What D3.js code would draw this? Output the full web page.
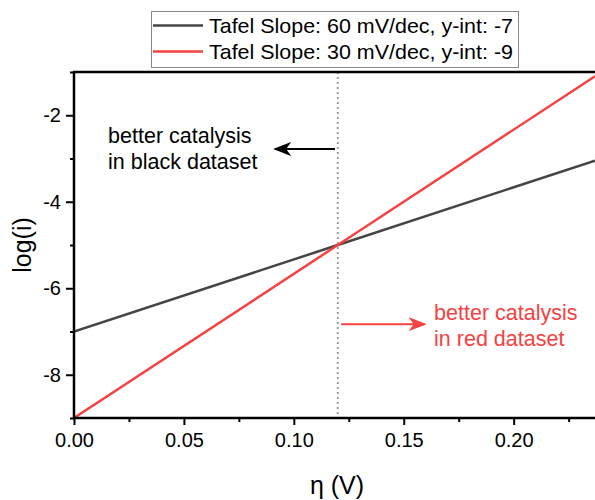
<!DOCTYPE html>
<html>
  <head>
    <meta charset="utf-8" />
    <script src="https://d3js.org/d3.v7.min.js"></script>
    <title>Tafel plot</title>
    <style>
      body { margin: 0; background: #fff; }
      text { font-family: "Liberation Sans", Arial, sans-serif; }
    </style>
  </head>
  <body>
    <svg id="chart" width="595" height="500"></svg>
    <script>

      // series
      var etaValues = [0, 0.12, 0.237];
      var blackValues = [-7, -5, -3.05];
      var redValues = [-9, -5, -1.1];
      var seriesNames = ["Tafel Slope: 60 mV/dec, y-int: -7", "Tafel Slope: 30 mV/dec, y-int: -9"];
      var seriesColors = ["#454545", "#f54242"];

      var xTicks = [0, 0.05, 0.10, 0.15, 0.20];
      var xMinor = [0.025, 0.075, 0.125, 0.175, 0.225];
      var yTicks = [-2, -4, -6, -8];
      var yMinor = [-1, -3, -5, -7, -9];
      var crossingEta = 0.12;

      // annotations, in data units
      var blackNote = ["better catalysis", "in black dataset"];
      var redNote = ["better catalysis", "in red dataset"];

      var svg = d3.select("#chart");

      var pLeft = 74, pRight = 595, pTop = 72, pBottom = 418;

      var x = d3.scaleLinear().domain([0, 0.237]).range([pLeft, pRight]);
      var y = d3.scaleLinear().domain([-9, -1]).range([pBottom, pTop]);

      svg.append("clipPath").attr("id", "plotclip")
        .append("rect")
        .attr("x", pLeft).attr("y", pTop)
        .attr("width", pRight - pLeft).attr("height", pBottom - pTop);

      // dotted guide at the crossing point
      svg.append("line")
        .attr("x1", x(crossingEta)).attr("x2", x(crossingEta))
        .attr("y1", pTop).attr("y2", pBottom)
        .attr("stroke", "#a0a0a0")
        .attr("stroke-width", 2)
        .attr("stroke-dasharray", "2,3");

      var line = d3.line()
        .x(function(d) { return x(d[0]); })
        .y(function(d) { return y(d[1]); });

      var series = [blackValues, redValues].map(function(vals) {
        return etaValues.map(function(e, i) { return [e, vals[i]]; });
      });

      svg.append("g").attr("clip-path", "url(#plotclip)")
        .selectAll("path")
        .data(series)
        .enter().append("path")
        .attr("d", line)
        .attr("fill", "none")
        .attr("stroke", function(d, i) { return seriesColors[i]; })
        .attr("stroke-width", 2.5);

      // axes
      var gx = svg.append("g")
        .attr("transform", "translate(0," + pBottom + ")")
        .call(d3.axisBottom(x)
          .tickValues(xTicks)
          .tickFormat(d3.format(".2f"))
          .tickSize(7)
          .tickPadding(8));

      svg.append("g")
        .attr("transform", "translate(0," + pBottom + ")")
        .call(d3.axisBottom(x).tickValues(xMinor).tickSize(4).tickFormat(""))
        .select(".domain").remove();

      var gy = svg.append("g")
        .attr("transform", "translate(" + pLeft + ",0)")
        .call(d3.axisLeft(y)
          .tickValues(yTicks)
          .tickFormat(function(d) { return d; })
          .tickSize(8)
          .tickPadding(5));

      svg.append("g")
        .attr("transform", "translate(" + pLeft + ",0)")
        .call(d3.axisLeft(y).tickValues(yMinor).tickSize(4).tickFormat(""))
        .select(".domain").remove();

      gx.select(".domain").attr("d", "M" + (pLeft - 1) + ",0H" + pRight);
      gy.select(".domain").attr("d", "M0," + (pBottom + 1) + "V" + (pTop - 1));

      svg.selectAll(".domain").attr("stroke-width", 2.5).attr("stroke", "#000");
      svg.selectAll(".tick line").attr("stroke-width", 2).attr("stroke", "#000");
      svg.selectAll(".tick text")
        .attr("font-size", 20).attr("fill", "#000")
        .style("font-family", "Liberation Sans, Arial, sans-serif");

      // top frame line
      svg.append("line")
        .attr("x1", pLeft - 1).attr("x2", pRight)
        .attr("y1", pTop).attr("y2", pTop)
        .attr("stroke", "#000").attr("stroke-width", 2.5);

      // axis titles
      svg.append("text")
        .attr("x", 337)
        .attr("y", 494)
        .attr("text-anchor", "middle")
        .attr("font-size", 25)
        .text("η (V)");

      svg.append("text")
        .attr("transform", "translate(31," + ((pTop + pBottom) / 2) + ") rotate(-90)")
        .attr("text-anchor", "middle")
        .attr("font-size", 25)
        .text("log(i)");

      // legend
      var legend = svg.append("g");
      legend.append("rect")
        .attr("x", 151.5).attr("y", 11.5)
        .attr("width", 367).attr("height", 56)
        .attr("fill", "#fff")
        .attr("stroke", "#888").attr("stroke-width", 1);

      var rows = legend.selectAll(".row")
        .data(seriesNames)
        .enter().append("g")
        .attr("class", "row")
        .attr("transform", function(d, i) { return "translate(0," + (25.5 + i * 26) + ")"; });

      rows.append("line")
        .attr("x1", 153).attr("x2", 203)
        .attr("stroke", function(d, i) { return seriesColors[i]; })
        .attr("stroke-width", 2.5);

      rows.append("text")
        .attr("x", 209)
        .attr("y", 7.5)
        .attr("font-size", 21)
        .attr("textLength", 304)
        .attr("lengthAdjust", "spacingAndGlyphs")
        .text(function(d) { return d; });

      // arrows
      var defs = svg.append("defs");
      ["black", "red"].forEach(function(name, i) {
        defs.append("marker")
          .attr("id", "head-" + name)
          .attr("viewBox", "0 -7 18 14")
          .attr("refX", 16)
          .attr("refY", 0)
          .attr("markerWidth", 18)
          .attr("markerHeight", 14)
          .attr("markerUnits", "userSpaceOnUse")
          .attr("orient", "auto")
          .append("path")
          .attr("d", "M0,-7 L18,0 L0,7 L5,0 Z")
          .attr("fill", i === 0 ? "#000" : seriesColors[1]);
      });

      svg.append("line")
        .attr("x1", x(0.1187)).attr("x2", x(0.0915))
        .attr("y1", y(-2.78)).attr("y2", y(-2.78))
        .attr("stroke", "#000").attr("stroke-width", 2)
        .attr("marker-end", "url(#head-black)");

      svg.append("line")
        .attr("x1", x(0.1215)).attr("x2", x(0.1595))
        .attr("y1", y(-6.83)).attr("y2", y(-6.83))
        .attr("stroke", seriesColors[1]).attr("stroke-width", 2)
        .attr("marker-end", "url(#head-red)");

      function note(lines, ex, ey, color) {
        var t = svg.append("text")
          .attr("font-size", 21.5)
          .attr("fill", color);
        lines.forEach(function(s, i) {
          t.append("tspan")
            .attr("x", x(ex))
            .attr("y", y(ey) + i * 26)
            .text(s);
        });
      }

      note(blackNote, 0.0155, -2.64, "#000");
      note(redNote, 0.1638, -6.74, seriesColors[1]);

    </script>
  </body>
</html>
